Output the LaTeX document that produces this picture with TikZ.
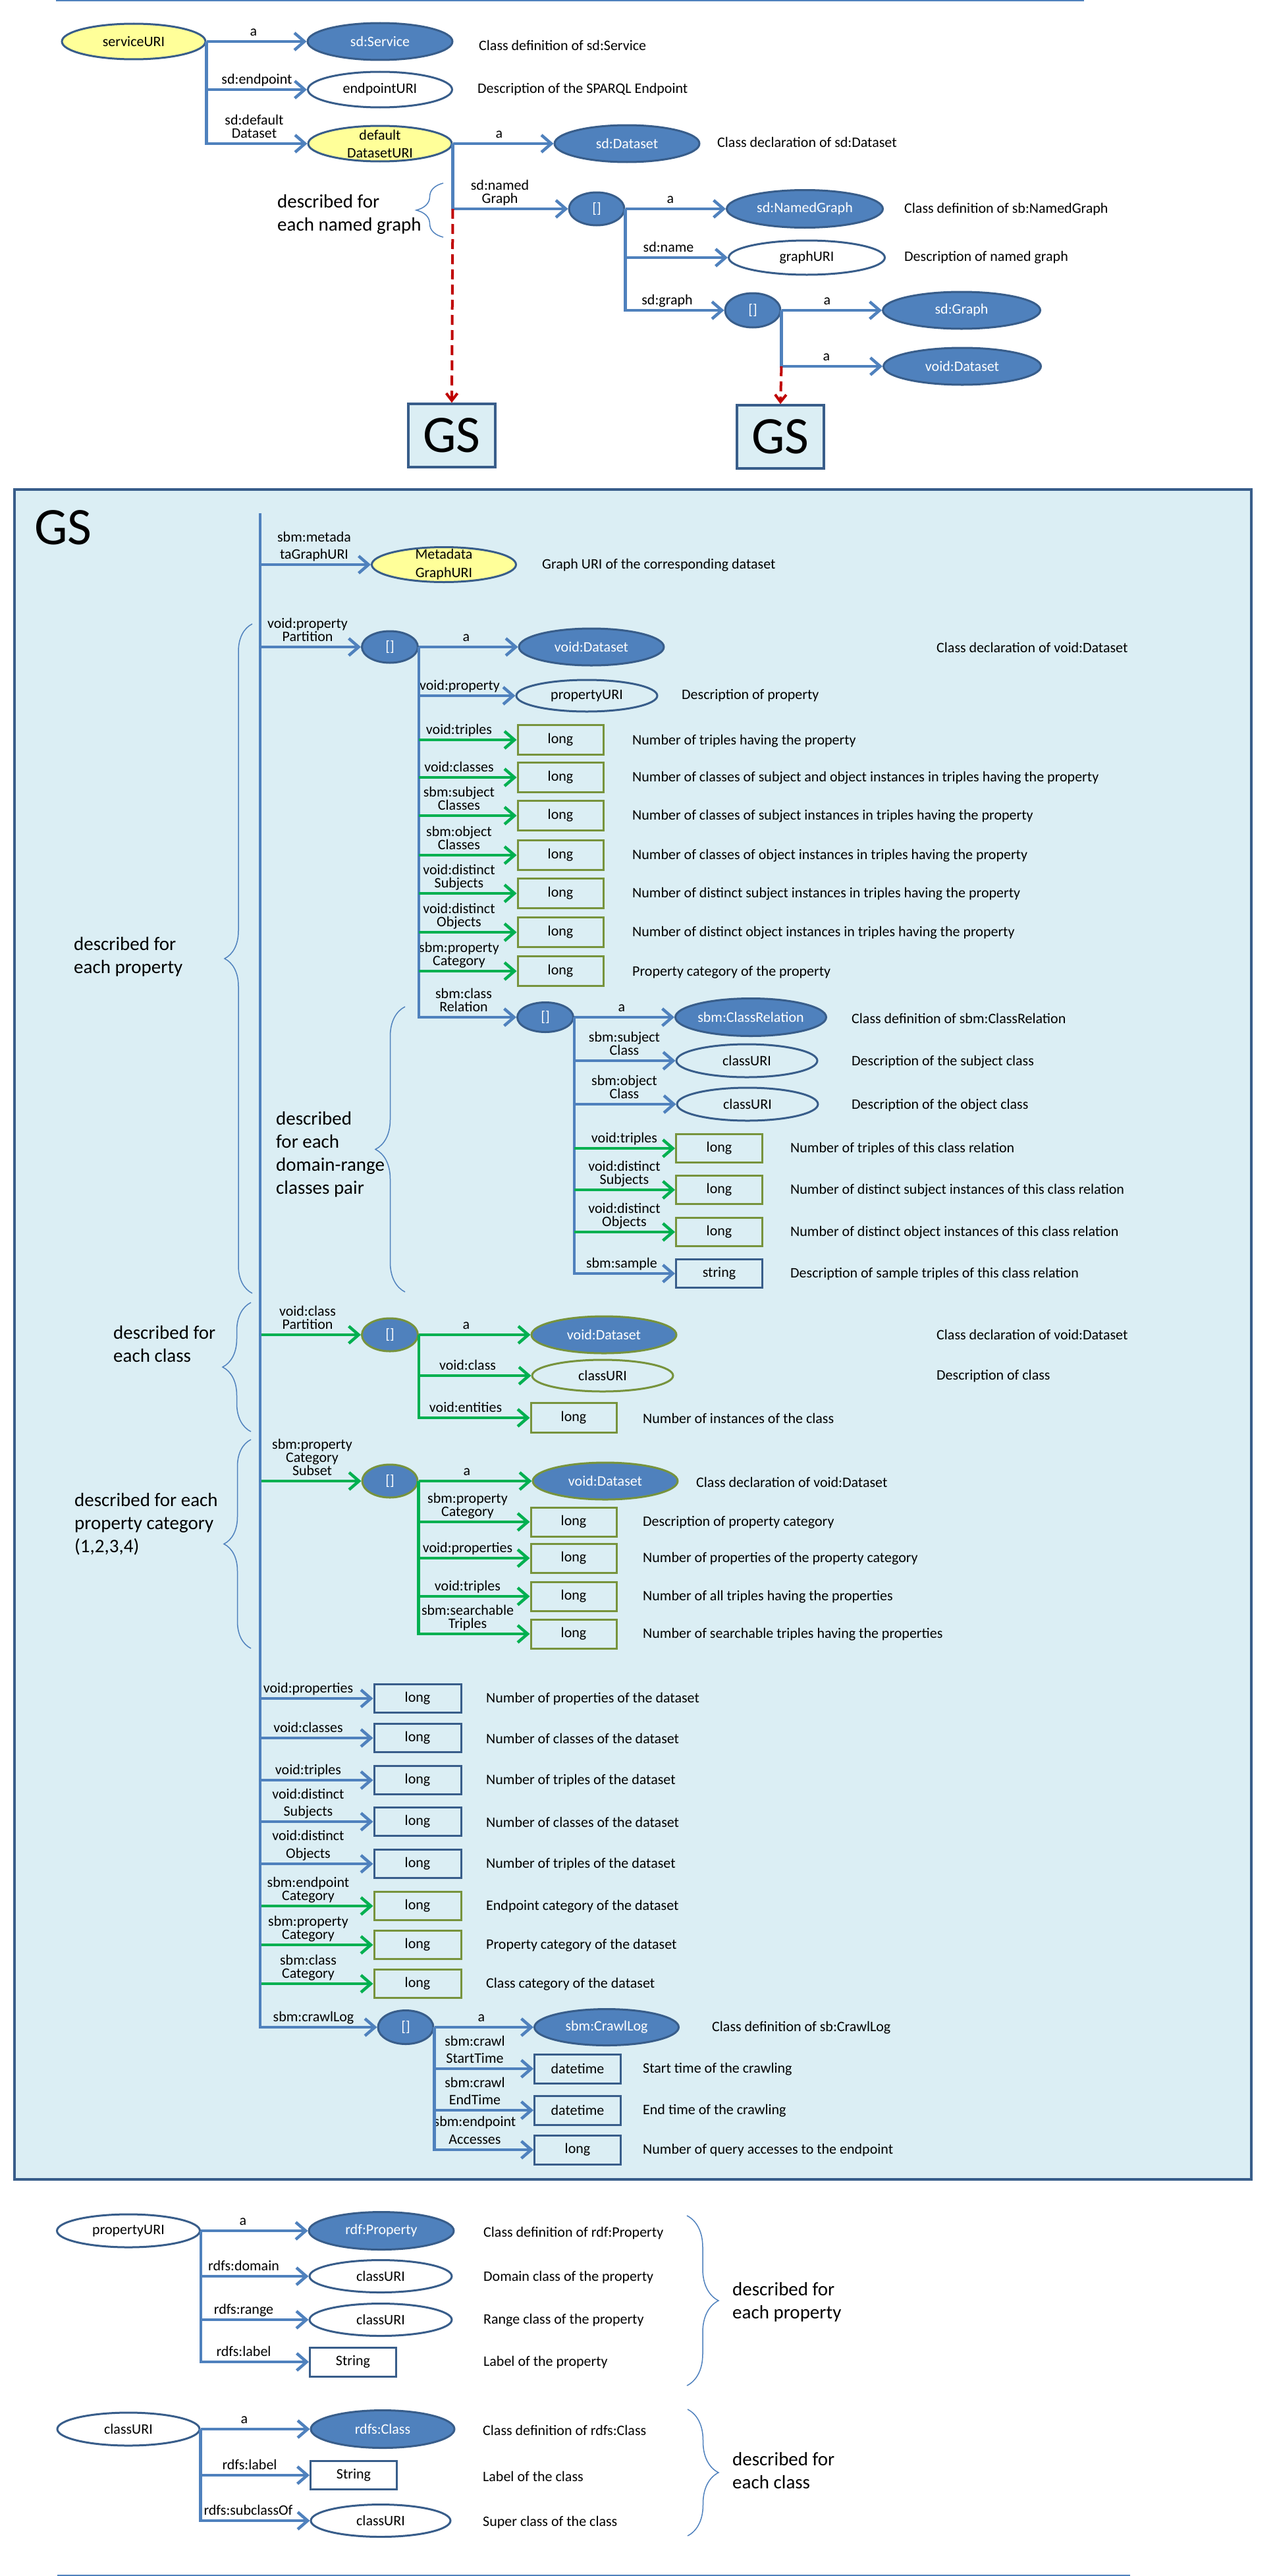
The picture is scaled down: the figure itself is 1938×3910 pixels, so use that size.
\documentclass[tikz,border=0pt]{standalone}
\usepackage{fontspec}
\setmainfont{Carlito}
\usetikzlibrary{arrows.meta, shapes.geometric, decorations.pathreplacing}

\definecolor{nodeblue}{HTML}{4F81BD}
\definecolor{edgeblue}{HTML}{385D8A}
\definecolor{lineblue}{HTML}{4F81BD}
\definecolor{arrowgreen}{HTML}{00B050}
\definecolor{olive}{HTML}{77933C}
\definecolor{uriyellow}{HTML}{FFFF99}
\definecolor{gsback}{HTML}{DBEEF4}
\definecolor{dashred}{HTML}{C00000}

\tikzset{
  classnode/.style={ellipse, draw=edgeblue, fill=nodeblue, text=white, line width=3pt, inner sep=0pt, minimum width=220pt, minimum height=56pt},
  urinode/.style={ellipse, draw=edgeblue, line width=3pt, inner sep=0pt, minimum width=216pt, minimum height=50pt},
  seednode/.style={urinode, fill=uriyellow, minimum width=218pt, minimum height=54pt},
  twoline/.style={align=center, inner ysep=-10pt, font=\fontsize{22}{27}\selectfont},
  blanknode/.style={ellipse, draw=edgeblue, fill=nodeblue, text=white, line width=3pt, inner sep=0pt, minimum width=84pt, minimum height=50pt},
  valuebox/.style={rectangle, draw=edgeblue, line width=3pt, inner sep=0pt, minimum width=131pt, minimum height=44pt},
  catbox/.style={valuebox, draw=olive},
  gsbox/.style={rectangle, draw=edgeblue, fill=gsback, line width=3.5pt, minimum width=132pt, minimum height=96pt, font=\fontsize{80}{80}\selectfont},
  prop/.style={align=center, inner sep=0pt, anchor=south, text depth=4.5pt},
  desc/.style={anchor=west, inner sep=0pt},
  note/.style={anchor=west, align=left, inner sep=0pt, font=\fontsize{29}{35}\selectfont},
  bluearrow/.style={-{Straight Barb[length=15pt,width=26pt]}, line width=4.5pt, draw=lineblue},
  greenarrow/.style={bluearrow, draw=arrowgreen},
  dasharrow/.style={-{Straight Barb[length=11pt,width=17pt]}, line width=4pt, draw=dashred, dash pattern=on 15pt off 8pt},
  groupbrace/.style={decorate, decoration={brace, amplitude=#1}, draw=lineblue, line width=1.5pt}
}

\begin{document}
\begin{tikzpicture}[x=1pt, y=-1pt, font=\fontsize{22}{20}\selectfont]

\useasboundingbox[fill=white] (0,0) rectangle (1938,3910);

% separators
\draw[line width=3pt, lineblue] (85,1) -- (1646,1);
\draw[line width=3pt, lineblue] (87,3909) -- (1716,3909);

% service description
\node[seednode] (serviceURI) at (203,63) {serviceURI};
\node[classnode] (sdService) at (577,63) {sd:Service};
\node[urinode, minimum width=219pt, minimum height=54pt] (endpointURI) at (577,136) {endpointURI};
\node[seednode, twoline] (defaultDS) at (577,218) {default\\DatasetURI};
\node[classnode] (sdDataset) at (952,218) {sd:Dataset};
\node[blanknode] (ngBlank) at (906,317) {[]};
\node[classnode, minimum width=237pt, minimum height=57pt] (sdNamedGraph) at (1222,317) {sd:NamedGraph};
\node[urinode, minimum width=237pt, minimum height=52pt] (graphURI) at (1225,391) {graphURI};
\node[blanknode, minimum height=52pt] (gBlank) at (1143,471) {[]};
\node[classnode, minimum width=239pt] (sdGraph) at (1460,471) {sd:Graph};
\node[classnode, minimum width=239pt] (voidDatasetA) at (1461,556) {void:Dataset};
\node[gsbox] (gsA) at (686,661) {GS};
\node[gsbox] (gsB) at (1185,663) {GS};

\node[prop] (pServiceA) at (385,59) {a};
\node[prop] (pEndpoint) at (390,132) {sd:endpoint};
\node[prop] (pDefault) at (386,214) {sd:default\\Dataset};
\node[prop] (pDatasetA) at (758,214) {a};
\node[prop] (pNamed) at (759,313) {sd:named\\Graph};
\node[prop] (pNamedA) at (1018,313) {a};
\node[prop] (pName) at (1015,387) {sd:name};
\node[prop] (pGraph) at (1013,467) {sd:graph};
\node[prop] (pGraphA) at (1256,467) {a};
\node[prop] (pVoidA) at (1255,552) {a};

\node[desc] (dService) at (727,69) {Class definition of sd:Service};
\node[desc] (dEndpoint) at (725,136) {Description of the SPARQL Endpoint};
\node[desc] (dDataset) at (1089,216) {Class declaration of sd:Dataset};
\node[desc] (dNamedGraph) at (1373,318) {Class definition of sb:NamedGraph};
\node[desc] (dGraphURI) at (1373,391) {Description of named graph};

\node[note] (nNamed) at (421,325) {described for\\each named graph};
\draw[groupbrace=41pt] (673,360) -- (673,278);

\draw[bluearrow] (serviceURI.east) -- (sdService.west);
\draw[bluearrow] (serviceURI.east) |- (endpointURI.west);
\draw[bluearrow] (serviceURI.east) |- (defaultDS.west);
\draw[bluearrow] (defaultDS.east) -- (sdDataset.west);
\draw[bluearrow] (defaultDS.east) |- (ngBlank.west);
\draw[dasharrow] (defaultDS.east |- ngBlank.west) -- (gsA.north);
\draw[bluearrow] (ngBlank.east) -- (sdNamedGraph.west);
\draw[bluearrow] (ngBlank.east) |- (graphURI.west);
\draw[bluearrow] (ngBlank.east) |- (gBlank.west);
\draw[bluearrow] (gBlank.east) -- (sdGraph.west);
\draw[bluearrow] (gBlank.east) |- (voidDatasetA.west);
\draw[dasharrow] (gBlank.east |- voidDatasetA.west) -- (gsB.north);

% graph summary
\draw[line width=4pt, draw=edgeblue, fill=gsback] (22,743) rectangle (1900,3308);
\node[font=\fontsize{80}{80}\selectfont, inner sep=0pt] (gsTitle) at (96,801) {GS};
\coordinate (gsTop) at (395,779);

\node[seednode, twoline, font=\fontsize{22}{28}\selectfont, minimum width=219pt, minimum height=53pt] (metaGraph) at (674,857) {Metadata\\GraphURI};
\node[prop] (pMeta) at (477,853) {sbm:metada\\[6pt]taGraphURI};
\node[desc] (dMeta) at (823,858) {Graph URI of the corresponding dataset};

% property partition
\node[blanknode, minimum width=85pt, minimum height=48pt] (ppBlank) at (592,982) {[]};
\node[classnode] (voidDatasetB) at (898,982) {void:Dataset};
\node[urinode, minimum width=214pt, minimum height=48pt] (ppProperty) at (891,1056) {propertyURI};
\node[catbox, minimum width=130pt, minimum height=45pt] (ppTriples) at (851,1123) {long};
\node[catbox, minimum width=130pt, minimum height=45pt] (ppClasses) at (851,1180) {long};
\node[catbox, minimum width=130pt, minimum height=45pt] (ppSubjClasses) at (851,1238) {long};
\node[catbox, minimum width=130pt, minimum height=45pt] (ppObjClasses) at (851,1298) {long};
\node[catbox, minimum width=130pt, minimum height=45pt] (ppSubjects) at (851,1356) {long};
\node[catbox, minimum width=130pt, minimum height=45pt] (ppObjects) at (851,1415) {long};
\node[catbox, minimum width=130pt, minimum height=45pt] (ppCategory) at (851,1474) {long};

\node[prop] (pPartition) at (467,978) {void:property\\Partition};
\node[prop] (pPartitionA) at (708,978) {a};
\node[prop] (pProperty) at (698,1052) {void:property};
\node[prop] (pTriples) at (697,1119) {void:triples};
\node[prop] (pClasses) at (697,1176) {void:classes};
\node[prop] (pSubjClasses) at (697,1234) {sbm:subject\\Classes};
\node[prop] (pObjClasses) at (697,1294) {sbm:object\\Classes};
\node[prop] (pSubjects) at (697,1352) {void:distinct\\Subjects};
\node[prop] (pObjects) at (697,1411) {void:distinct\\Objects};
\node[prop] (pCategory) at (697,1470) {sbm:property\\Category};

\node[desc] (dVoidB) at (1422,983) {Class declaration of void:Dataset};
\node[desc] (dProperty) at (1035,1056) {Description of property};
\node[desc] (dTriples) at (960,1125) {Number of triples having the property};
\node[desc] (dClasses) at (960,1181) {Number of classes of subject and object instances in triples having the property};
\node[desc] (dSubjClasses) at (960,1239) {Number of classes of subject instances in triples having the property};
\node[desc] (dObjClasses) at (960,1299) {Number of classes of object instances in triples having the property};
\node[desc] (dSubjects) at (960,1357) {Number of distinct subject instances in triples having the property};
\node[desc] (dObjects) at (960,1416) {Number of distinct object instances in triples having the property};
\node[desc] (dCategory) at (960,1476) {Property category of the property};

% class relation
\node[blanknode, minimum width=85pt, minimum height=45pt] (crBlank) at (828,1544) {[]};
\node[classnode, minimum width=229pt, minimum height=57pt] (crClassRelation) at (1140,1544) {sbm:ClassRelation};
\node[urinode, minimum width=214pt] (crSubject) at (1134,1610) {classURI};
\node[urinode, minimum width=214pt] (crObject) at (1135,1676) {classURI};
\node[catbox, minimum height=43pt] (crTriples) at (1092,1743) {long};
\node[catbox, minimum height=43pt] (crSubjects) at (1092,1806) {long};
\node[catbox, minimum height=43pt] (crObjects) at (1092,1870) {long};
\node[valuebox, minimum height=43pt] (crSample) at (1092,1933) {string};

\node[prop] (pRelation) at (704,1540) {sbm:class\\Relation};
\node[prop] (pRelationA) at (944,1540) {a};
\node[prop] (pSubjClass) at (948,1606) {sbm:subject\\Class};
\node[prop] (pObjClass) at (948,1672) {sbm:object\\Class};
\node[prop] (pCrTriples) at (948,1739) {void:triples};
\node[prop] (pCrSubjects) at (948,1802) {void:distinct\\Subjects};
\node[prop] (pCrObjects) at (948,1866) {void:distinct\\Objects};
\node[prop] (pSample) at (944,1929) {sbm:sample};

\node[desc] (dRelation) at (1293,1546) {Class definition of sbm:ClassRelation};
\node[desc] (dSubjClass) at (1293,1612) {Description of the subject class};
\node[desc] (dObjClass) at (1293,1678) {Description of the object class};
\node[desc] (dCrTriples) at (1200,1744) {Number of triples of this class relation};
\node[desc] (dCrSubjects) at (1200,1807) {Number of distinct subject instances of this class relation};
\node[desc] (dCrObjects) at (1200,1871) {Number of distinct object instances of this class relation};
\node[desc] (dSample) at (1200,1934) {Description of sample triples of this class relation};

\node[note] (nProperty) at (112,1452) {described for\\each property};
\node[note] (nPair) at (419,1752) {described\\for each\\domain-range\\classes pair};
\draw[groupbrace=42pt] (383,1963) -- (383,947);
\draw[groupbrace=45pt] (615,1961) -- (615,1528);

\draw[bluearrow] (gsTop) |- (ppBlank.west);
\draw[bluearrow] (ppBlank.east) -- (voidDatasetB.west);
\draw[bluearrow] (ppBlank.east) |- (ppProperty.west);
\draw[bluearrow] (ppBlank.east) |- (crBlank.west);
\draw[greenarrow] (ppBlank.east |- ppTriples.west) -- (ppTriples.west);
\draw[greenarrow] (ppBlank.east |- ppClasses.west) -- (ppClasses.west);
\draw[greenarrow] (ppBlank.east |- ppSubjClasses.west) -- (ppSubjClasses.west);
\draw[greenarrow] (ppBlank.east |- ppObjClasses.west) -- (ppObjClasses.west);
\draw[greenarrow] (ppBlank.east |- ppSubjects.west) -- (ppSubjects.west);
\draw[greenarrow] (ppBlank.east |- ppObjects.west) -- (ppObjects.west);
\draw[greenarrow] (ppBlank.east |- ppCategory.west) -- (ppCategory.west);
\draw[bluearrow] (crBlank.east) -- (crClassRelation.west);
\draw[bluearrow] (crBlank.east) |- (crSubject.west);
\draw[bluearrow] (crBlank.east) |- (crObject.west);
\draw[bluearrow] (crBlank.east) |- (crSample.west);
\draw[greenarrow] (crBlank.east |- crTriples.west) -- (crTriples.west);
\draw[greenarrow] (crBlank.east |- crSubjects.west) -- (crSubjects.west);
\draw[greenarrow] (crBlank.east |- crObjects.west) -- (crObjects.west);

% class partition
\node[blanknode, draw=olive, minimum width=85pt] (cpBlank) at (592,2026) {[]};
\node[classnode, draw=olive] (voidDatasetC) at (917,2026) {void:Dataset};
\node[urinode, draw=olive, minimum width=214pt, minimum height=48pt] (cpClass) at (915,2088) {classURI};
\node[catbox, minimum width=130pt, minimum height=45pt] (cpEntities) at (871,2152) {long};

\node[prop] (pClassPart) at (467,2022) {void:class\\Partition};
\node[prop] (pClassPartA) at (708,2022) {a};
\node[prop] (pClass) at (710,2084) {void:class};
\node[prop] (pEntities) at (707,2148) {void:entities};

\node[desc] (dVoidC) at (1422,2026) {Class declaration of void:Dataset};
\node[desc] (dClass) at (1422,2089) {Description of class};
\node[desc] (dEntities) at (976,2153) {Number of instances of the class};

\node[note] (nClass) at (172,2040) {described for\\each class};
\draw[groupbrace=43pt] (381,2173) -- (381,1977);

\draw[greenarrow] (gsTop |- cpBlank.west) -- (cpBlank.west);
\draw[greenarrow] (cpBlank.east) -- (voidDatasetC.west);
\draw[greenarrow] (cpBlank.east) |- (cpClass.west);
\draw[greenarrow] (cpBlank.east) |- (cpEntities.west);

% property category subset
\node[blanknode, draw=olive] (pcBlank) at (592,2248) {[]};
\node[classnode, draw=olive] (voidDatasetD) at (919,2248) {void:Dataset};
\node[catbox, minimum width=130pt] (pcCategory) at (871,2310) {long};
\node[catbox, minimum width=130pt] (pcProperties) at (871,2365) {long};
\node[catbox, minimum width=130pt] (pcTriples) at (871,2423) {long};
\node[catbox, minimum width=130pt] (pcSearchable) at (871,2480) {long};

\node[prop] (pSubset) at (474,2244) {sbm:property\\Category\\Subset};
\node[prop] (pSubsetA) at (709,2244) {a};
\node[prop] (pPcCategory) at (710,2306) {sbm:property\\Category};
\node[prop] (pPcProperties) at (710,2361) {void:properties};
\node[prop] (pPcTriples) at (710,2419) {void:triples};
\node[prop] (pPcSearchable) at (710,2476) {sbm:searchable\\Triples};

\node[desc] (dVoidD) at (1057,2250) {Class declaration of void:Dataset};
\node[desc] (dPcCategory) at (976,2311) {Description of property category};
\node[desc] (dPcProperties) at (976,2366) {Number of properties of the property category};
\node[desc] (dPcTriples) at (976,2424) {Number of all triples having the properties};
\node[desc] (dPcSearchable) at (976,2481) {Number of searchable triples having the properties};

\node[note] (nCategory) at (113,2313) {described for each\\property category\\(1,2,3,4)};
\draw[groupbrace=41pt] (381,2502) -- (381,2185);

\draw[greenarrow] (gsTop |- pcBlank.west) -- (pcBlank.west);
\draw[greenarrow] (pcBlank.east) -- (voidDatasetD.west);
\draw[greenarrow] (pcBlank.east) |- (pcCategory.west);
\draw[greenarrow] (pcBlank.east) |- (pcProperties.west);
\draw[greenarrow] (pcBlank.east) |- (pcTriples.west);
\draw[greenarrow] (pcBlank.east) |- (pcSearchable.west);

% dataset statistics
\node[valuebox, minimum width=132pt, minimum height=43pt] (dsProperties) at (634,2578) {long};
\node[valuebox, minimum width=132pt, minimum height=43pt] (dsClasses) at (634,2638) {long};
\node[valuebox, minimum width=132pt, minimum height=43pt] (dsTriples) at (634,2702) {long};
\node[valuebox, minimum width=132pt, minimum height=43pt] (dsSubjects) at (634,2765) {long};
\node[valuebox, minimum width=132pt, minimum height=43pt] (dsObjects) at (634,2829) {long};
\node[catbox, minimum width=132pt, minimum height=43pt] (dsEndpointCat) at (634,2893) {long};
\node[catbox, minimum width=132pt, minimum height=43pt] (dsPropertyCat) at (634,2952) {long};
\node[catbox, minimum width=132pt, minimum height=43pt] (dsClassCat) at (634,3011) {long};

\node[prop] (pDsProperties) at (468,2574) {void:properties};
\node[prop] (pDsClasses) at (468,2634) {void:classes};
\node[prop] (pDsTriples) at (468,2698) {void:triples};
\node[prop] (pDsSubjects) at (468,2761) {void:distinct\\[6pt]Subjects};
\node[prop] (pDsObjects) at (468,2825) {void:distinct\\[7pt]Objects};
\node[prop] (pDsEndpointCat) at (468,2889) {sbm:endpoint\\Category};
\node[prop] (pDsPropertyCat) at (468,2948) {sbm:property\\Category};
\node[prop] (pDsClassCat) at (468,3007) {sbm:class\\Category};

\node[desc] (dDsProperties) at (738,2579) {Number of properties of the dataset};
\node[desc] (dDsClasses) at (738,2639) {Number of classes of the dataset};
\node[desc] (dDsTriples) at (738,2703) {Number of triples of the dataset};
\node[desc] (dDsSubjects) at (738,2766) {Number of classes of the dataset};
\node[desc] (dDsObjects) at (738,2830) {Number of triples of the dataset};
\node[desc] (dDsEndpointCat) at (738,2894) {Endpoint category of the dataset};
\node[desc] (dDsPropertyCat) at (738,2953) {Property category of the dataset};
\node[desc] (dDsClassCat) at (738,3012) {Class category of the dataset};

\draw[bluearrow] (gsTop) |- (dsProperties.west);
\draw[bluearrow] (gsTop) |- (dsClasses.west);
\draw[bluearrow] (gsTop) |- (dsTriples.west);
\draw[bluearrow] (gsTop) |- (dsSubjects.west);
\draw[bluearrow] (gsTop) |- (dsObjects.west);
\draw[greenarrow] (gsTop |- dsEndpointCat.west) -- (dsEndpointCat.west);
\draw[greenarrow] (gsTop |- dsPropertyCat.west) -- (dsPropertyCat.west);
\draw[greenarrow] (gsTop |- dsClassCat.west) -- (dsClassCat.west);

% crawl log
\node[blanknode, minimum height=51pt] (clBlank) at (616,3077) {[]};
\node[classnode, minimum width=219pt, minimum height=55pt] (clCrawlLog) at (921,3077) {sbm:CrawlLog};
\node[valuebox] (clStart) at (877,3140) {datetime};
\node[valuebox] (clEnd) at (877,3203) {datetime};
\node[valuebox] (clAccesses) at (877,3263) {long};

\node[prop] (pCrawlLog) at (476,3073) {sbm:crawlLog};
\node[prop] (pCrawlLogA) at (731,3073) {a};
\node[prop] (pStart) at (721,3136) {sbm:crawl\\[6pt]StartTime};
\node[prop] (pEnd) at (721,3199) {sbm:crawl\\[6pt]EndTime};
\node[prop] (pAccesses) at (721,3259) {sbm:endpoint\\[7pt]Accesses};

\node[desc] (dCrawlLog) at (1081,3078) {Class definition of sb:CrawlLog};
\node[desc] (dStart) at (976,3141) {Start time of the crawling};
\node[desc] (dEnd) at (976,3204) {End time of the crawling};
\node[desc] (dAccesses) at (976,3264) {Number of query accesses to the endpoint};

\draw[bluearrow] (gsTop) |- (metaGraph.west);
\draw[bluearrow] (gsTop) |- (clBlank.west);
\draw[bluearrow] (clBlank.east) -- (clCrawlLog.west);
\draw[bluearrow] (clBlank.east) |- (clStart.west);
\draw[bluearrow] (clBlank.east) |- (clEnd.west);
\draw[bluearrow] (clBlank.east) |- (clAccesses.west);

% property description
\node[urinode, minimum width=217pt] (propURI) at (195,3386) {propertyURI};
\node[classnode, minimum height=57pt] (rdfProperty) at (579,3386) {rdf:Property};
\node[urinode, minimum height=49pt] (domainClass) at (578,3455) {classURI};
\node[urinode, minimum height=49pt] (rangeClass) at (578,3521) {classURI};
\node[valuebox, fill=white] (propLabel) at (536,3585) {String};

\node[prop] (pRdfPropA) at (369,3382) {a};
\node[prop] (pDomain) at (370,3451) {rdfs:domain};
\node[prop] (pRange) at (370,3517) {rdfs:range};
\node[prop] (pPropLabel) at (370,3581) {rdfs:label};

\node[desc] (dRdfProperty) at (734,3390) {Class definition of rdf:Property};
\node[desc] (dDomain) at (734,3457) {Domain class of the property};
\node[desc] (dRange) at (734,3522) {Range class of the property};
\node[desc] (dPropLabel) at (734,3586) {Label of the property};

\node[note] (nPropertyB) at (1112,3494) {described for\\each property};
\draw[groupbrace=48pt] (1043,3363) -- (1043,3621);

\draw[bluearrow] (propURI.east) -- (rdfProperty.west);
\draw[bluearrow] (propURI.east) |- (domainClass.west);
\draw[bluearrow] (propURI.east) |- (rangeClass.west);
\draw[bluearrow] (propURI.east) |- (propLabel.west);

% class description
\node[urinode] (classURI) at (195,3687) {classURI};
\node[classnode, minimum width=218pt, minimum height=57pt] (rdfsClass) at (581,3687) {rdfs:Class};
\node[valuebox, fill=white, minimum height=43pt] (classLabel) at (537,3757) {String};
\node[urinode, minimum width=212pt, minimum height=49pt] (superClass) at (578,3826) {classURI};

\node[prop] (pRdfsClassA) at (371,3683) {a};
\node[prop] (pClassLabel) at (379,3753) {rdfs:label};
\node[prop] (pSubclass) at (377,3822) {rdfs:subclassOf};

\node[desc] (dRdfsClass) at (733,3689) {Class definition of rdfs:Class};
\node[desc] (dClassLabel) at (733,3759) {Label of the class};
\node[desc] (dSuperClass) at (733,3829) {Super class of the class};

\node[note] (nClassB) at (1112,3750) {described for\\each class};
\draw[groupbrace=47pt] (1044,3657) -- (1044,3849);

\draw[bluearrow] (classURI.east) -- (rdfsClass.west);
\draw[bluearrow] (classURI.east) |- (classLabel.west);
\draw[bluearrow] (classURI.east) |- (superClass.west);

\end{tikzpicture}
\end{document}
